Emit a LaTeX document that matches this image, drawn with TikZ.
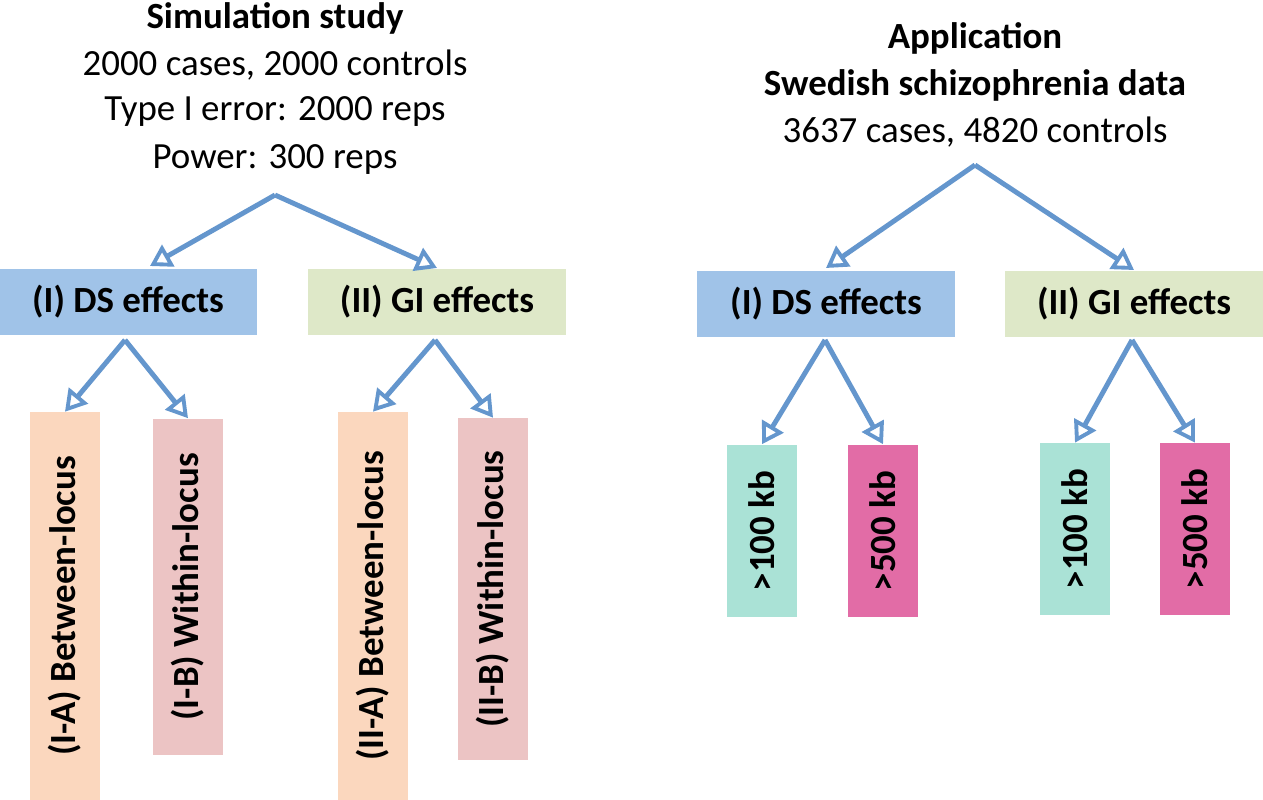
\documentclass[tikz,border=0pt]{standalone}
\usepackage{fontspec}
\setmainfont{Carlito}
\usetikzlibrary{arrows.meta}
\definecolor{arrowblue}{RGB}{100,150,205}
\definecolor{dsblue}{RGB}{160,195,232}
\definecolor{gigreen}{RGB}{222,232,200}
\definecolor{peachbox}{RGB}{251,215,190}
\definecolor{rosybox}{RGB}{236,196,196}
\definecolor{tealbox}{RGB}{170,226,214}
\definecolor{pinkbox}{RGB}{226,108,166}
\tikzset{
  title/.style={font=\fontsize{21}{25}\selectfont\bfseries},
  info/.style={font=\fontsize{21}{25}\selectfont},
  effbox/.style={minimum width=5.16cm,minimum height=1.34cm,font=\fontsize{21}{25}\selectfont\bfseries},
  subbox/.style={minimum height=1.4cm,rotate=90,font=\fontsize{21}{25}\selectfont\bfseries},
  branch/.style={arrowblue,line width=2.8pt,-{Triangle[open,length=12pt,width=14pt,line width=2.2pt]}},
}
\begin{document}
\begin{tikzpicture}[x=0.02cm,y=-0.02cm]
  \useasboundingbox (0,0) rectangle (1263,800);

  % Simulation side
  \node[title] (sim) at (275,18) {Simulation study};
  \node[info] at (275,65) {2000 cases, 2000 controls};
  \node[info] at (275,112) {Type I error: 2000 reps};
  \node[info] at (275,160) {Power: 300 reps};
  \coordinate (simroot) at (275,195);

  \node[effbox,fill=dsblue] (sds) at (128,302) {(I) DS effects};
  \node[effbox,fill=gigreen] (sgi) at (437,302) {(II) GI effects};

  \node[subbox,fill=peachbox,minimum width=7.76cm] (sia) at (65,606) {(I-A) Between-locus};
  \node[subbox,fill=rosybox,minimum width=6.74cm] (sib) at (188,587) {(I-B) Within-locus};
  \node[subbox,fill=peachbox,minimum width=7.76cm] (siia) at (373,606) {(II-A) Between-locus};
  \node[subbox,fill=rosybox,minimum width=6.84cm] (siib) at (493,589) {(II-B) Within-locus};

  \draw[branch] (simroot) -- (150,266);
  \draw[branch] (simroot) -- (437,268);
  \draw[branch] (125,340) -- (sia.east);
  \draw[branch] (125,340) -- (sib.east);
  \draw[branch] (435,340) -- (siia.east);
  \draw[branch] (435,340) -- (siib.east);

  % Application side
  \node[title] (app) at (975,38) {Application};
  \node[title] at (975,85) {Swedish schizophrenia data};
  \node[info] at (975,132) {3637 cases, 4820 controls};
  \coordinate (approot) at (975,165);

  \node[effbox,fill=dsblue] (ads) at (826,304) {(I) DS effects};
  \node[effbox,fill=gigreen] (agi) at (1134,304) {(II) GI effects};

  \node[subbox,fill=tealbox,minimum width=3.46cm] (a1) at (762,531) {>100 kb};
  \node[subbox,fill=pinkbox,minimum width=3.46cm] (a2) at (883,531) {>500 kb};
  \node[subbox,fill=tealbox,minimum width=3.44cm] (a3) at (1075,529) {>100 kb};
  \node[subbox,fill=pinkbox,minimum width=3.44cm] (a4) at (1195,529) {>500 kb};

  \draw[branch] (approot) -- (826,268);
  \draw[branch] (approot) -- (1134,270);
  \draw[branch] (825,340) -- (a1.east);
  \draw[branch] (825,340) -- (a2.east);
  \draw[branch] (1132,340) -- (a3.east);
  \draw[branch] (1132,340) -- (a4.east);
\end{tikzpicture}
\end{document}
